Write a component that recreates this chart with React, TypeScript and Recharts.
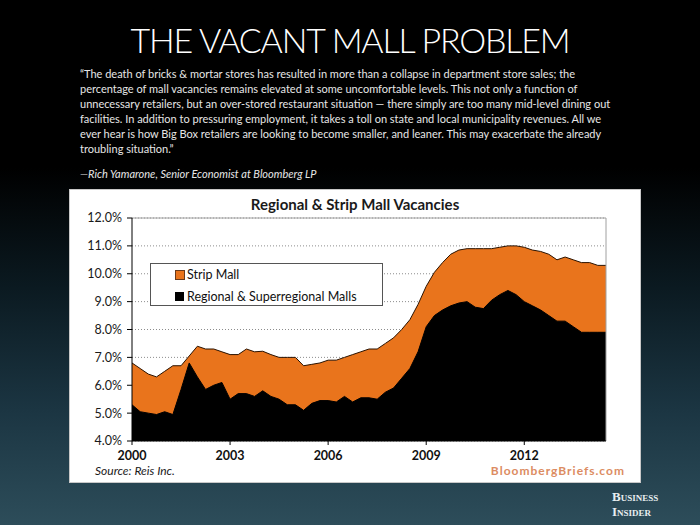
import React from 'react';
import { AreaChart, Area, XAxis, YAxis, CartesianGrid, ReferenceLine } from 'recharts';

// quarterly vacancy rates, 2000 Q1 - 2014 Q3
const startYear = 2000;
const tickYears = [2000, 2003, 2006, 2009, 2012];
const yTicks = [4, 5, 6, 7, 8, 9, 10, 11, 12];

const stripMall = [
  6.8, 6.6, 6.4, 6.3, 6.5, 6.7, 6.7, 7.05, 7.4, 7.3, 7.3, 7.2,
  7.1, 7.1, 7.3, 7.2, 7.22, 7.1, 7.0, 7.0, 7.0, 6.7, 6.75, 6.8,
  6.9, 6.9, 7.0, 7.1, 7.2, 7.3, 7.3, 7.5, 7.7, 8.0, 8.35, 8.9,
  9.55, 10.05, 10.4, 10.7, 10.85, 10.9, 10.9, 10.9, 10.9, 10.95, 11.0, 11.0,
  10.95, 10.85, 10.8, 10.7, 10.5, 10.6, 10.5, 10.4, 10.4, 10.3, 10.3,
];

const regionalMalls = [
  5.3, 5.05, 5.0, 4.95, 5.05, 4.95, 5.85, 6.8, 6.3, 5.85, 6.0, 6.1,
  5.5, 5.7, 5.7, 5.6, 5.8, 5.6, 5.5, 5.3, 5.3, 5.1, 5.35, 5.45,
  5.45, 5.4, 5.6, 5.4, 5.55, 5.55, 5.5, 5.75, 5.9, 6.25, 6.6, 7.2,
  8.1, 8.5, 8.7, 8.85, 8.95, 9.0, 8.8, 8.75, 9.05, 9.25, 9.4, 9.25,
  9.0, 8.85, 8.7, 8.5, 8.3, 8.3, 8.1, 7.9, 7.9, 7.9, 7.9,
];

const quoteLines = [
  '\u201cThe death of bricks & mortar stores has resulted in more than a collapse in department store sales; the',
  'percentage of mall vacancies remains elevated at some uncomfortable levels. This not only a function of',
  'unnecessary retailers, but an over-stored restaurant situation \u2014 there simply are too many mid-level dining out',
  'facilities. In addition to pressuring employment, it takes a toll on state and local municipality revenues. All we',
  'ever hear is how Big Box retailers are looking to become smaller, and leaner. This may exacerbate the already',
  'troubling situation.\u201d',
];

const quarters = stripMall.map((_, i) => `${startYear + Math.floor(i / 4)} Q${(i % 4) + 1}`);
const data = quarters.map((q, i) => ({ quarter: q, strip: stripMall[i], regional: regionalMalls[i] }));

const ORANGE = '#E9741C';
const FONT = 'Lato, "Open Sans", sans-serif';

export default function App() {
  return (
    <div
      style={{
        position: 'fixed',
        top: 0,
        left: 0,
        width: 700,
        height: 525,
        overflow: 'hidden',
        fontFamily: FONT,
        background: 'linear-gradient(to bottom, #000 0%, #000 32%, #0b1a21 55%, #1b3542 78%, #2d4d5a 100%)',
      }}
    >
      <div
        style={{
          position: 'absolute',
          top: 18,
          left: 0,
          width: 700,
          textAlign: 'center',
          color: '#fff',
          fontSize: 34,
          fontWeight: 300,
          lineHeight: '44px',
          letterSpacing: -1.2,
        }}
      >
        THE VACANT MALL PROBLEM
      </div>

      <div style={{ position: 'absolute', top: 66, left: 80, color: '#e6e6e6', fontSize: 11, lineHeight: '15px' }}>
        {quoteLines.map((l, i) => (
          <div key={i} style={{ whiteSpace: 'nowrap' }}>{l}</div>
        ))}
      </div>

      <div style={{ position: 'absolute', top: 167, left: 80, color: '#e6e6e6', fontSize: 11, fontStyle: 'italic' }}>
        {'\u2014Rich Yamarone, Senior Economist at Bloomberg LP'}
      </div>

      <div
        style={{
          position: 'absolute',
          top: 190,
          left: 70,
          width: 570,
          height: 292,
          background: '#fff',
          boxShadow: '0 0 0 1px #c8c8c8',
        }}
      >
        <div
          style={{
            position: 'absolute',
            top: 5,
            left: 0,
            width: 570,
            textAlign: 'center',
            fontSize: 15,
            fontWeight: 700,
            color: '#1a1a1a',
            lineHeight: '18px',
          }}
        >
          Regional &amp; Strip Mall Vacancies
        </div>

        <AreaChart width={570} height={292} data={data} margin={{ top: 28, right: 34, bottom: 0, left: 0 }}>
          <CartesianGrid vertical={false} stroke="#8c8c8c" strokeDasharray="1 2" />
          <XAxis
            dataKey="quarter"
            ticks={tickYears.map((y) => `${y} Q1`)}
            tickFormatter={(v: string) => v.slice(0, 4)}
            interval={0}
            height={41}
            tickSize={4}
            tickMargin={6}
            stroke="#000"
            tick={{ fill: '#111', fontSize: 12.5, fontWeight: 700, fontFamily: FONT }}
          />
          <YAxis
            type="number"
            domain={[4, 12]}
            ticks={yTicks}
            width={62}
            tickSize={5}
            tickMargin={5}
            stroke="#000"
            tickFormatter={(v: number) => `${v.toFixed(1)}%`}
            tick={{ fill: '#1a1a1a', fontSize: 12.5, fontFamily: FONT }}
          />
          <ReferenceLine y={12} stroke="#a0a0a0" />
          <ReferenceLine x={quarters[quarters.length - 1]} stroke="#a0a0a0" />
          <Area
            type="linear"
            dataKey="strip"
            name="Strip Mall"
            stroke="#2a1200"
            strokeWidth={1}
            fill={ORANGE}
            fillOpacity={1}
            isAnimationActive={false}
          />
          <Area
            type="linear"
            dataKey="regional"
            name="Regional & Superregional Malls"
            stroke="#000"
            strokeWidth={1}
            fill="#000"
            fillOpacity={1}
            isAnimationActive={false}
          />
        </AreaChart>

        <div
          style={{
            position: 'absolute',
            left: 80,
            top: 73,
            width: 233,
            height: 43,
            boxSizing: 'border-box',
            border: '1px solid #555',
            background: '#fff',
            fontSize: 12.5,
            color: '#111',
          }}
        >
          <div style={{ position: 'absolute', left: 24, top: 3, display: 'flex', alignItems: 'center', whiteSpace: 'nowrap' }}>
            <span style={{ display: 'inline-block', width: 8, height: 8, background: ORANGE, border: '1px solid #6a3a1a', marginRight: 2 }} />
            Strip Mall
          </div>
          <div style={{ position: 'absolute', left: 24, top: 25, display: 'flex', alignItems: 'center', whiteSpace: 'nowrap' }}>
            <span style={{ display: 'inline-block', width: 9, height: 9, background: '#000', marginRight: 3 }} />
            Regional &amp; Superregional Malls
          </div>
        </div>

        <div style={{ position: 'absolute', left: 25, top: 273, fontSize: 12, fontStyle: 'italic', color: '#1a1a1a' }}>
          Source: Reis Inc.
        </div>
        <div
          style={{
            position: 'absolute',
            right: 15,
            top: 273,
            fontSize: 12,
            fontWeight: 700,
            letterSpacing: 1,
            color: '#dc8c62',
          }}
        >
          BloombergBriefs.com
        </div>
      </div>

      <div
        style={{
          position: 'absolute',
          left: 612,
          top: 489,
          color: '#e8eef0',
          fontFamily: '"Liberation Serif", "DejaVu Serif", serif',
          fontVariant: 'small-caps',
          fontWeight: 700,
          fontSize: 13,
          lineHeight: '15px',
        }}
      >
        <div>Business</div>
        <div>Insider</div>
      </div>
    </div>
  );
}
